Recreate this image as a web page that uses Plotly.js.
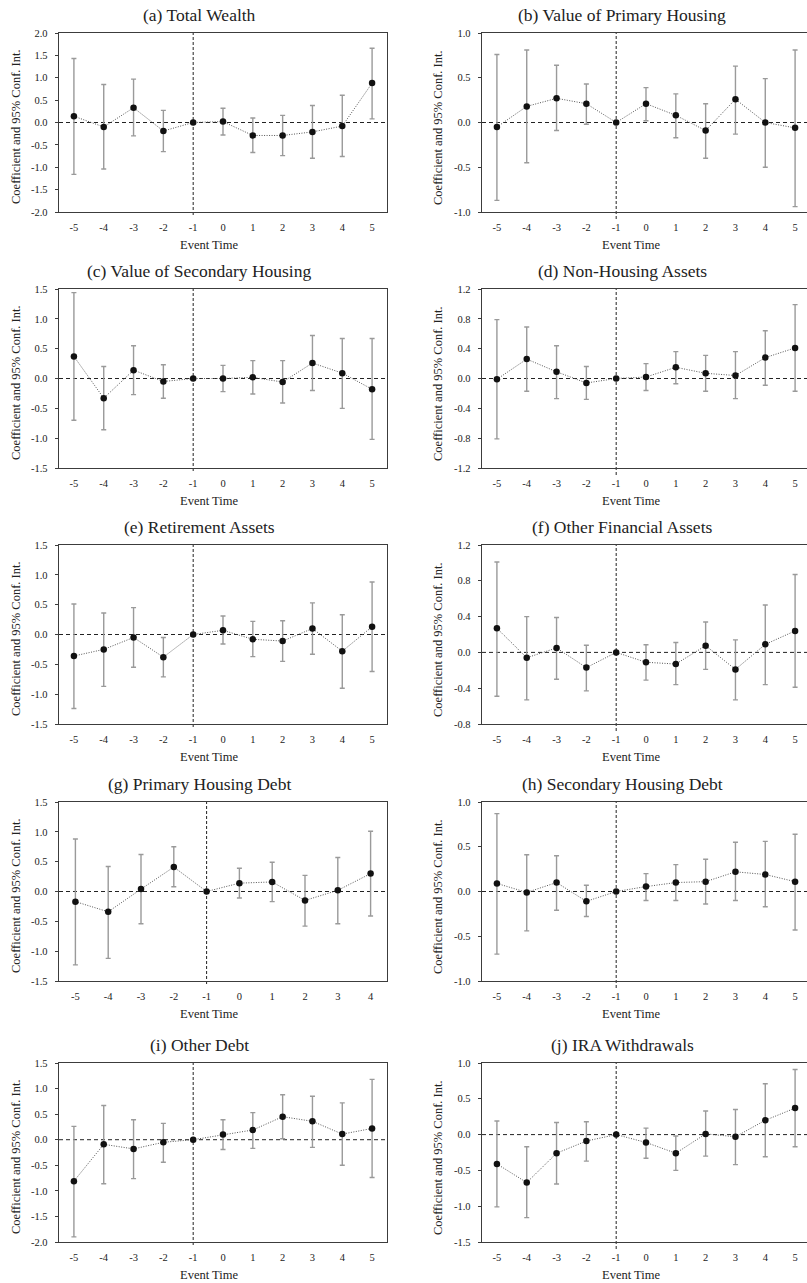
<!DOCTYPE html>
<html><head><meta charset="utf-8">
<script src="https://cdn.plot.ly/plotly-3.0.1.min.js"></script>
<style>html,body{margin:0;padding:0;overflow:hidden;background:#fff}#chart{width:812px;height:1283px}</style>
</head><body><div id="chart"></div>
<script>
// ---------- data ----------
const eventTime11 = [-5,-4,-3,-2,-1,0,1,2,3,4,5];
const eventTime10 = [-5,-4,-3,-2,-1,0,1,2,3,4];

const panelTitles = ["(a) Total Wealth","(b) Value of Primary Housing","(c) Value of Secondary Housing","(d) Non-Housing Assets","(e) Retirement Assets","(f) Other Financial Assets","(g) Primary Housing Debt","(h) Secondary Housing Debt","(i) Other Debt","(j) IRA Withdrawals"];
const xTitle = "Event Time";
const yTitle = "Coefficient and 95% Conf. Int.";

// (a) Total Wealth
const coefA = [0.14,-0.10,0.33,-0.19,0,0.02,-0.29,-0.29,-0.21,-0.08,0.88];
const lowA  = [-1.16,-1.04,-0.30,-0.65,null,-0.28,-0.67,-0.74,-0.80,-0.76,0.08];
const highA = [1.43,0.85,0.97,0.27,null,0.32,0.10,0.16,0.38,0.61,1.66];
const yTicksA = [-2.0,-1.5,-1.0,-0.5,0.0,0.5,1.0,1.5,2.0];

// (b) Value of Primary Housing
const coefB = [-0.05,0.18,0.27,0.21,0,0.21,0.08,-0.09,0.26,0.00,-0.06];
const lowB  = [-0.87,-0.45,-0.09,-0.02,null,0.02,-0.17,-0.40,-0.13,-0.50,-0.94];
const highB = [0.76,0.81,0.64,0.43,null,0.39,0.32,0.21,0.63,0.49,0.81];
const yTicksB = [-1.0,-0.5,0.0,0.5,1.0];

// (c) Value of Secondary Housing
const coefC = [0.37,-0.33,0.14,-0.05,0,0.00,0.02,-0.06,0.26,0.09,-0.18];
const lowC  = [-0.70,-0.86,-0.27,-0.33,null,-0.22,-0.26,-0.41,-0.20,-0.50,-1.02];
const highC = [1.44,0.20,0.55,0.23,null,0.22,0.30,0.30,0.72,0.67,0.67];
const yTicksC = [-1.5,-1.0,-0.5,0.0,0.5,1.0,1.5];

// (d) Non-Housing Assets
const coefD = [-0.01,0.26,0.09,-0.06,0,0.02,0.15,0.07,0.04,0.28,0.41];
const lowD  = [-0.81,-0.17,-0.27,-0.28,null,-0.16,-0.07,-0.17,-0.27,-0.09,-0.17];
const highD = [0.79,0.69,0.44,0.16,null,0.20,0.36,0.31,0.36,0.64,0.99];
const yTicksD = [-1.2,-0.8,-0.4,0.0,0.4,0.8,1.2];

// (e) Retirement Assets
const coefE = [-0.36,-0.25,-0.05,-0.38,0,0.07,-0.08,-0.11,0.10,-0.28,0.13];
const lowE  = [-1.24,-0.87,-0.55,-0.71,null,-0.16,-0.37,-0.45,-0.33,-0.90,-0.62];
const highE = [0.51,0.36,0.45,-0.05,null,0.31,0.22,0.23,0.53,0.33,0.88];
const yTicksE = [-1.5,-1.0,-0.5,0.0,0.5,1.0,1.5];

// (f) Other Financial Assets
const coefF = [0.27,-0.06,0.05,-0.17,0,-0.11,-0.13,0.075,-0.19,0.09,0.24];
const lowF  = [-0.49,-0.53,-0.30,-0.43,null,-0.31,-0.36,-0.19,-0.53,-0.36,-0.39];
const highF = [1.01,0.40,0.39,0.08,null,0.085,0.11,0.34,0.14,0.53,0.87];
const yTicksF = [-0.8,-0.4,0.0,0.4,0.8,1.2];

// (g) Primary Housing Debt
const coefG = [-0.17,-0.34,0.04,0.41,0,0.14,0.16,-0.15,0.02,0.30];
const lowG  = [-1.23,-1.12,-0.54,0.08,null,-0.11,-0.17,-0.58,-0.54,-0.41];
const highG = [0.88,0.42,0.62,0.75,null,0.39,0.49,0.27,0.57,1.01];
const yTicksG = [-1.5,-1.0,-0.5,0.0,0.5,1.0,1.5];

// (h) Secondary Housing Debt
const coefH = [0.09,-0.01,0.10,-0.11,0,0.055,0.10,0.11,0.22,0.19,0.11];
const lowH  = [-0.70,-0.44,-0.21,-0.28,null,-0.10,-0.10,-0.14,-0.10,-0.17,-0.43];
const highH = [0.87,0.41,0.40,0.07,null,0.20,0.30,0.36,0.55,0.56,0.64];
const yTicksH = [-1.0,-0.5,0.0,0.5,1.0];

// (i) Other Debt
const coefI = [-0.81,-0.09,-0.18,-0.05,0,0.10,0.19,0.45,0.36,0.11,0.22];
const lowI  = [-1.90,-0.86,-0.76,-0.44,null,-0.19,-0.17,0.02,-0.15,-0.50,-0.74];
const highI = [0.26,0.67,0.39,0.32,null,0.39,0.53,0.88,0.85,0.72,1.18];
const yTicksI = [-2.0,-1.5,-1.0,-0.5,0.0,0.5,1.0,1.5];

// (j) IRA Withdrawals
const coefJ = [-0.41,-0.67,-0.26,-0.09,0,-0.11,-0.26,0.01,-0.03,0.20,0.37];
const lowJ  = [-1.01,-1.16,-0.69,-0.37,null,-0.33,-0.50,-0.30,-0.42,-0.31,-0.17];
const highJ = [0.19,-0.17,0.17,0.18,null,0.09,-0.02,0.33,0.35,0.71,0.91];
const yTicksJ = [-1.5,-1.0,-0.5,0.0,0.5,1.0];

const panels = [
  {x:eventTime11, c:coefA, lo:lowA, hi:highA, yt:yTicksA},
  {x:eventTime11, c:coefB, lo:lowB, hi:highB, yt:yTicksB},
  {x:eventTime11, c:coefC, lo:lowC, hi:highC, yt:yTicksC},
  {x:eventTime11, c:coefD, lo:lowD, hi:highD, yt:yTicksD},
  {x:eventTime11, c:coefE, lo:lowE, hi:highE, yt:yTicksE},
  {x:eventTime11, c:coefF, lo:lowF, hi:highF, yt:yTicksF},
  {x:eventTime10, c:coefG, lo:lowG, hi:highG, yt:yTicksG},
  {x:eventTime11, c:coefH, lo:lowH, hi:highH, yt:yTicksH},
  {x:eventTime11, c:coefI, lo:lowI, hi:highI, yt:yTicksI},
  {x:eventTime11, c:coefJ, lo:lowJ, hi:highJ, yt:yTicksJ}
];

// ---------- layout geometry (pixels) ----------
const W = 812, H = 1283;
const colX = [[59,387],[482,810]];
const rowY = [[33,212],[289,468],[545,724],[802,981],[1063,1242]];
const titleX = [199,622];
const xTitleX = [209,631];
const yTitleX = [16,438];
const vlineOvershoot = [3,7];

const FONT = "Liberation Serif, Times New Roman, serif";
const TXT = "#222";
const LINE = "#3c3c3c";

const data = [], shapes = [], annotations = [];
const layout = {
  width: W, height: H, autosize:false,
  margin:{l:0,r:0,t:0,b:0},
  paper_bgcolor:"#fff", plot_bgcolor:"#fff",
  showlegend:false,
  font:{family:FONT, color:TXT, size:10.5}
};

panels.forEach((p,i) => {
  const n = i+1, col = i%2, row = Math.floor(i/2);
  const xs = n===1 ? "x" : "x"+n, ys = n===1 ? "y" : "y"+n;
  const xa = n===1 ? "xaxis" : "xaxis"+n, ya = n===1 ? "yaxis" : "yaxis"+n;
  const [L,R] = colX[col], [T,B] = rowY[row];
  const errP = p.hi.map((h,k)=> h===null ? 0 : h - p.c[k]);
  const errM = p.lo.map((l,k)=> l===null ? 0 : p.c[k] - l);
  data.push({
    type:"scatter", mode:"lines+markers", x:p.x, y:p.c, xaxis:xs, yaxis:ys,
    line:{color:"#555", width:1, dash:"1px,1.5px"},
    marker:{color:"#111", size:6.5},
    error_y:{type:"data", symmetric:false, array:errP, arrayminus:errM,
             color:"#9a9a9a", thickness:1.4, width:2.5},
    hoverinfo:"skip"
  });
  const xmin = p.x[0]-0.5, xmax = p.x[p.x.length-1]+0.5;
  layout[xa] = {
    domain:[L/W, R/W], anchor:ys, range:[xmin,xmax],
    tickmode:"array", tickvals:p.x, ticktext:p.x.map(v=>String(v)),
    ticks:"outside", ticklen:5, tickcolor:"rgba(0,0,0,0)",
    showline:true, mirror:true, linecolor:LINE, linewidth:1.3,
    showgrid:false, zeroline:false, fixedrange:true,
    tickfont:{family:FONT, size:10.5, color:TXT}
  };
  layout[ya] = {
    domain:[1-B/H, 1-T/H], anchor:xs, range:[p.yt[0], p.yt[p.yt.length-1]],
    tickmode:"array", tickvals:p.yt, ticktext:p.yt.map(v=>v.toFixed(1)),
    ticks:"outside", ticklen:3, tickcolor:LINE, tickwidth:1,
    ticklabelstandoff:5,
    showline:true, mirror:true, linecolor:LINE, linewidth:1.3,
    showgrid:false, zeroline:false, fixedrange:true,
    tickfont:{family:FONT, size:10.5, color:TXT}
  };
  shapes.push({type:"line", layer:"below", xref:xs+" domain", yref:ys, x0:0, x1:1, y0:0, y1:0,
               line:{color:"#222", width:1, dash:"4px,3px"}});
  shapes.push({type:"line", layer:"below", xref:xs, yref:ys+" domain", x0:-1, x1:-1,
               y0:-vlineOvershoot[col]/(B-T), y1:1,
               line:{color:"#222", width:1, dash:"3px,2px"}});
  annotations.push({text:panelTitles[i], xref:"paper", yref:"paper", x:titleX[col]/W,
                    y:1-(T-18)/H, xanchor:"center", yanchor:"middle", showarrow:false,
                    font:{family:FONT, size:17.5, color:TXT}});
  annotations.push({text:xTitle, xref:"paper", yref:"paper", x:xTitleX[col]/W,
                    y:1-(B+33)/H, xanchor:"center", yanchor:"middle", showarrow:false,
                    font:{family:FONT, size:12.5, color:TXT}});
  annotations.push({text:yTitle, xref:"paper", yref:"paper", x:yTitleX[col]/W,
                    y:1-((T+B)/2+4.5)/H, xanchor:"center", yanchor:"middle", showarrow:false,
                    textangle:-90, font:{family:FONT, size:12.5, color:TXT}});
});
layout.shapes = shapes;
layout.annotations = annotations;

Plotly.newPlot("chart", data, layout, {staticPlot:true, displayModeBar:false});
</script>
</body></html>
